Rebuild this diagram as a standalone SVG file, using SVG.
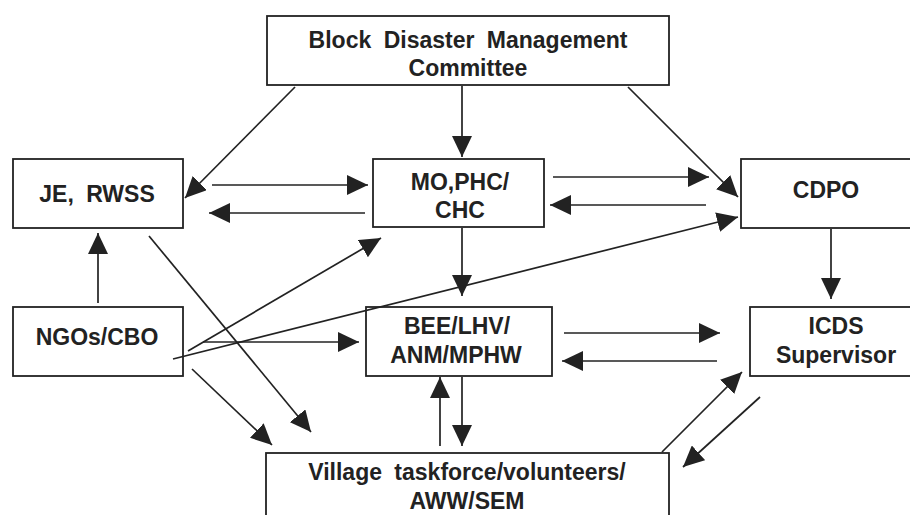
<svg xmlns="http://www.w3.org/2000/svg" width="910" height="515" viewBox="0 0 910 515">
<style>
.box{fill:#fff;stroke:#222;stroke-width:1.8}
.t{font-family:"Liberation Sans",Arial,sans-serif;font-weight:bold;font-size:23px;fill:#222;text-anchor:middle;word-spacing:6px}
.c line{stroke:#222;stroke-width:1.7;marker-end:url(#ah)}
</style>
<defs>
<marker id="ah" markerUnits="userSpaceOnUse" markerWidth="22" markerHeight="20" refX="21" refY="10" orient="auto">
<path d="M0,0 L21,10 L0,20 z" fill="#222"/>
</marker>
</defs>
<rect width="910" height="515" fill="#fff"/>
<g id="bdmc"><rect class="box" x="267" y="16" width="402" height="69"/>
<text class="t" x="468" y="48">Block Disaster Management</text>
<text class="t" x="468" y="76">Committee</text></g>
<g id="je"><rect class="box" x="13" y="159" width="170" height="69"/>
<text class="t" x="97" y="202">JE, RWSS</text></g>
<g id="mo"><rect class="box" x="373" y="159" width="171" height="68"/>
<text class="t" x="460" y="190">MO,PHC/</text>
<text class="t" x="460" y="218">CHC</text></g>
<g id="cdpo"><rect class="box" x="741" y="159" width="172" height="69"/>
<text class="t" x="826" y="198">CDPO</text></g>
<g id="ngo"><rect class="box" x="13" y="307" width="170" height="69"/>
<text class="t" x="97" y="345">NGOs/CBO</text></g>
<g id="bee"><rect class="box" x="366" y="307" width="186" height="69"/>
<text class="t" x="457" y="334">BEE/LHV/</text>
<text class="t" x="456" y="363">ANM/MPHW</text></g>
<g id="icds"><rect class="box" x="750" y="307" width="172" height="69"/>
<text class="t" x="836" y="334">ICDS</text>
<text class="t" x="836" y="363">Supervisor</text></g>
<g id="village"><rect class="box" x="266" y="453" width="403" height="80"/>
<text class="t" x="467" y="480">Village taskforce/volunteers/</text>
<text class="t" x="467" y="509">AWW/SEM</text></g>
<g class="c" id="connectors">
<line x1="295" y1="87" x2="185" y2="198"/>
<line x1="462" y1="86" x2="462" y2="157"/>
<line x1="628" y1="87" x2="738" y2="197"/>
<line x1="212" y1="185" x2="368" y2="185"/>
<line x1="365" y1="213" x2="209" y2="213"/>
<line x1="553" y1="177" x2="709" y2="177"/>
<line x1="706" y1="205" x2="550" y2="205"/>
<line x1="462" y1="228" x2="462" y2="296"/>
<line x1="831" y1="229" x2="831" y2="299"/>
<line x1="98" y1="303" x2="98" y2="233"/>
<line x1="188" y1="351" x2="381" y2="238"/>
<line x1="173" y1="359" x2="738" y2="217"/>
<line x1="203" y1="342" x2="359" y2="342"/>
<line x1="149" y1="236" x2="311" y2="432"/>
<line x1="192" y1="369" x2="272" y2="445"/>
<line x1="564" y1="333" x2="720" y2="333"/>
<line x1="717" y1="361" x2="562" y2="361"/>
<line x1="440" y1="446" x2="440" y2="377"/>
<line x1="462" y1="377" x2="462" y2="446"/>
<line x1="662" y1="452" x2="742" y2="372"/>
<line x1="760" y1="397" x2="683" y2="467"/>
</g>
</svg>
